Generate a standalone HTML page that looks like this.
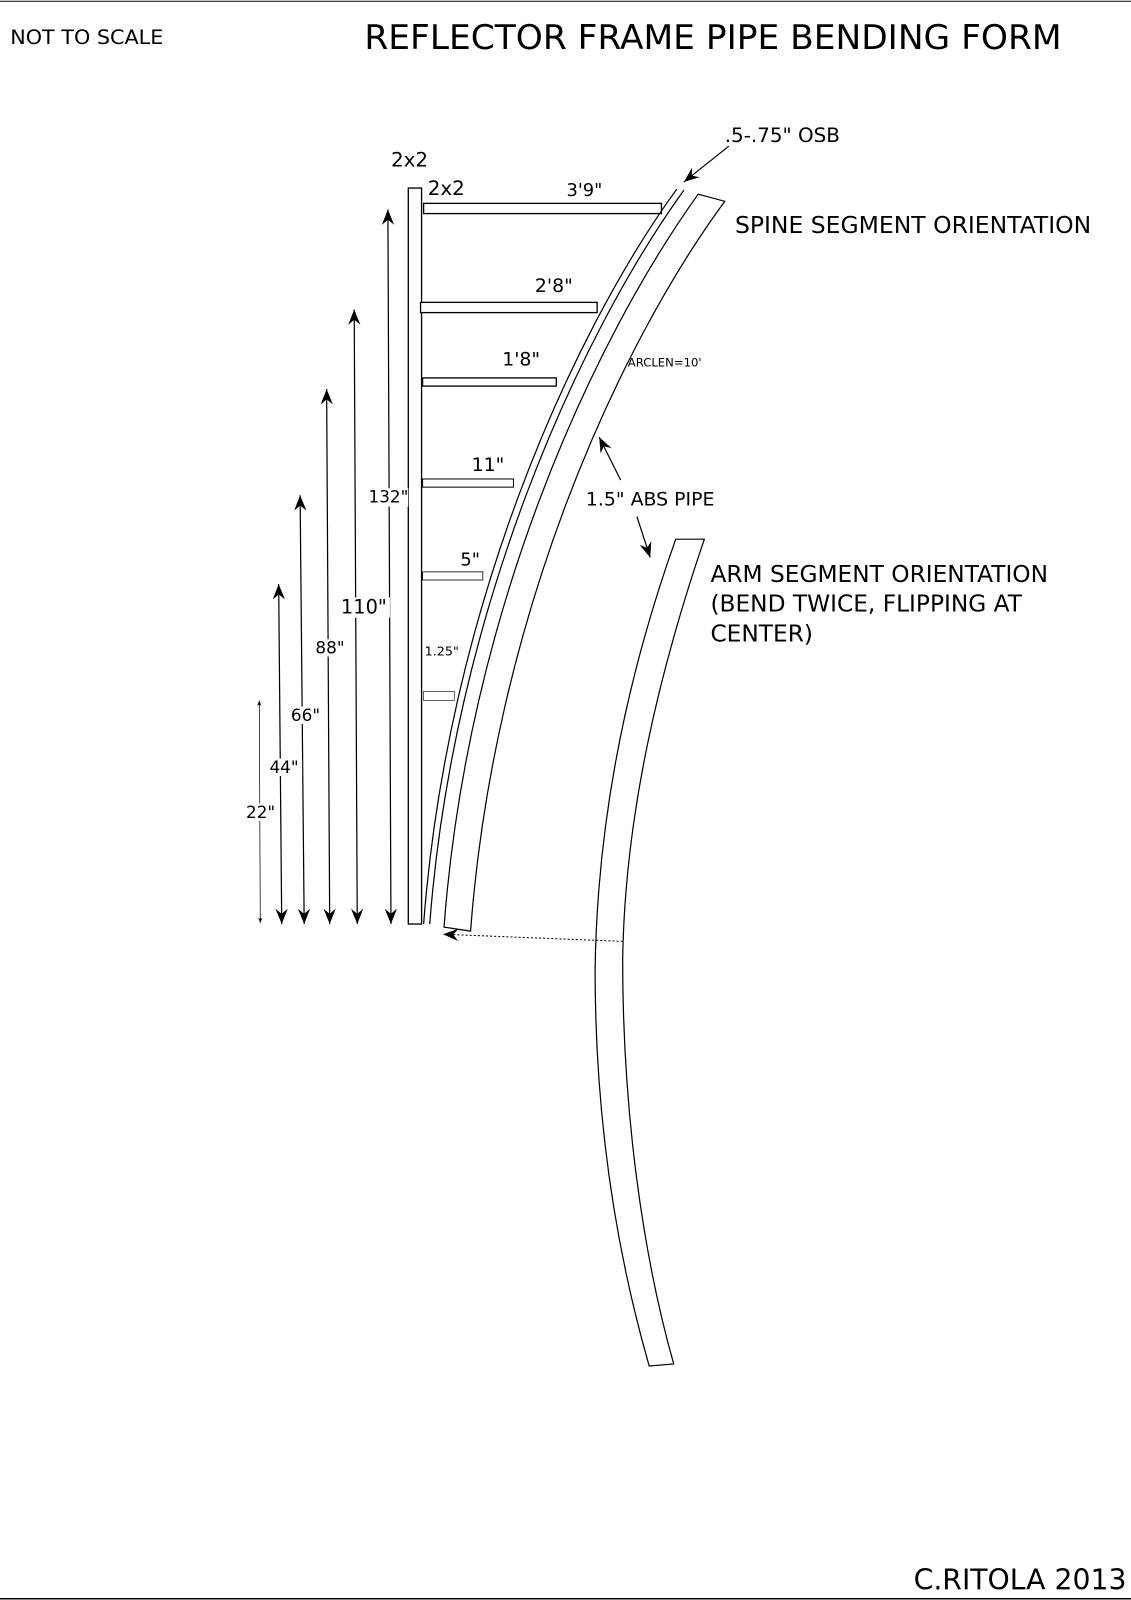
<!DOCTYPE html>
<html><head><style>html,body{margin:0;padding:0;background:#fff}svg{display:block}text{font-family:"DejaVu Sans","Liberation Sans",sans-serif;fill:#000}</style></head>
<body>
<svg width="1131" height="1600" viewBox="0 0 1108 1567" xmlns="http://www.w3.org/2000/svg">
<defs>
<marker id="a" viewBox="-16 -8 18 16" refX="0" refY="0" markerWidth="18" markerHeight="16" markerUnits="userSpaceOnUse" orient="auto-start-reverse"><path d="M0,0 L-15,-6 L-10,0 L-15,6 z" fill="#000"/></marker>
<marker id="s" viewBox="-6 -3 7 6" refX="0" refY="0" markerWidth="7" markerHeight="6" markerUnits="userSpaceOnUse" orient="auto-start-reverse"><path d="M0,0 L-5,-2 L-4,0 L-5,2 z" fill="#000"/></marker>
</defs>
<line x1="0" y1="1" x2="1108" y2="1" stroke="#000" stroke-width="1"/>
<line x1="0" y1="1566" x2="1108" y2="1566" stroke="#000" stroke-width="1.5"/>
<text x="10" y="43" font-size="19" textLength="150" lengthAdjust="spacingAndGlyphs">NOT TO SCALE</text>
<text x="357" y="48" font-size="33" textLength="683" lengthAdjust="spacingAndGlyphs">REFLECTOR FRAME PIPE BENDING FORM</text>
<g fill="#fff" stroke="#000" stroke-width="1.3">
<rect x="400" y="184" width="13" height="721"/>
<rect x="415" y="199" width="233" height="10"/>
<rect x="412" y="296" width="173" height="10"/>
<rect x="414" y="370" width="131" height="8"/>
<rect x="414" y="469" width="89" height="8" stroke-width="1"/>
<rect x="414" y="560" width="59" height="8" stroke-width="0.8"/>
<rect x="415" y="677" width="30" height="9" stroke-width="0.6"/>
</g>
<g fill="none" stroke="#000" stroke-width="1.2">
<path d="M663,185 C558,330 438,600 415,905"/>
<path d="M670,186 C565,332 444,602 421,905"/>
<path d="M684,190 C580,335 458,600 435,908 L461,912 C484,605 605,340 710,197 Z"/>
<path d="M662,528 C615,660 585,800 583,950 C583,1100 605,1230 636,1338 L660,1336 C630,1230 610,1090 610,940 C612,800 645,660 690,528 Z"/>
</g>
<line x1="610" y1="922" x2="434" y2="915" stroke="#000" stroke-width="1" stroke-dasharray="2,2" marker-end="url(#a)"/>
<g stroke="#000" stroke-width="1.2" fill="none">
<line x1="380" y1="205" x2="383" y2="905" marker-start="url(#a)" marker-end="url(#a)"/>
<line x1="347" y1="303" x2="350" y2="905" marker-start="url(#a)" marker-end="url(#a)"/>
<line x1="320" y1="381" x2="323" y2="905" marker-start="url(#a)" marker-end="url(#a)"/>
<line x1="294" y1="485" x2="298" y2="905" marker-start="url(#a)" marker-end="url(#a)"/>
<line x1="273" y1="572" x2="276" y2="905" marker-start="url(#a)" marker-end="url(#a)"/>
<line x1="254" y1="686" x2="255" y2="904" stroke-width="0.7" marker-start="url(#s)" marker-end="url(#s)"/>
<line x1="714" y1="143" x2="670" y2="178" marker-end="url(#a)"/>
<line x1="608" y1="470" x2="587" y2="428" marker-end="url(#a)"/>
<line x1="624" y1="506" x2="637" y2="546" marker-end="url(#a)"/>
</g>
<rect x="358" y="478" width="42" height="18" fill="#fff"/>
<rect x="332" y="585" width="50" height="20" fill="#fff"/>
<rect x="306" y="626" width="36" height="17" fill="#fff"/>
<rect x="282" y="692" width="34" height="17" fill="#fff"/>
<rect x="262" y="743" width="34" height="17" fill="#fff"/>
<rect x="239" y="787" width="34" height="17" fill="#fff"/>
<text x="361" y="492" font-size="16.5">132"</text>
<text x="334" y="601" font-size="19">110"</text>
<text x="309" y="640" font-size="16.5">88"</text>
<text x="285" y="706" font-size="16.5">66"</text>
<text x="264" y="757" font-size="16.5">44"</text>
<text x="241" y="801" font-size="16.5">22"</text>
<text x="383" y="163" font-size="19.5">2x2</text>
<text x="419" y="191" font-size="19.5">2x2</text>
<text x="555" y="192" font-size="17.5">3'9"</text>
<text x="524" y="286" font-size="18.5">2'8"</text>
<text x="492" y="358" font-size="18.5">1'8"</text>
<text x="462" y="461" font-size="18.5">11"</text>
<text x="451" y="554" font-size="17.5">5"</text>
<text x="416" y="642" font-size="12.5">1.25"</text>
<text x="710" y="139" font-size="19.5">.5-.75" OSB</text>
<text x="720" y="228" font-size="23">SPINE SEGMENT ORIENTATION</text>
<text x="615" y="359" font-size="11.4">ARCLEN=10'</text>
<text x="574" y="495" font-size="18.5">1.5" ABS PIPE</text>
<text x="696" y="570" font-size="22.8">ARM SEGMENT ORIENTATION</text>
<text x="696" y="599" font-size="22.8">(BEND TWICE, FLIPPING AT</text>
<text x="696" y="628" font-size="22.8">CENTER)</text>
<text x="895" y="1557" font-size="27.7">C.RITOLA 2013</text>
</svg>
</body></html>
